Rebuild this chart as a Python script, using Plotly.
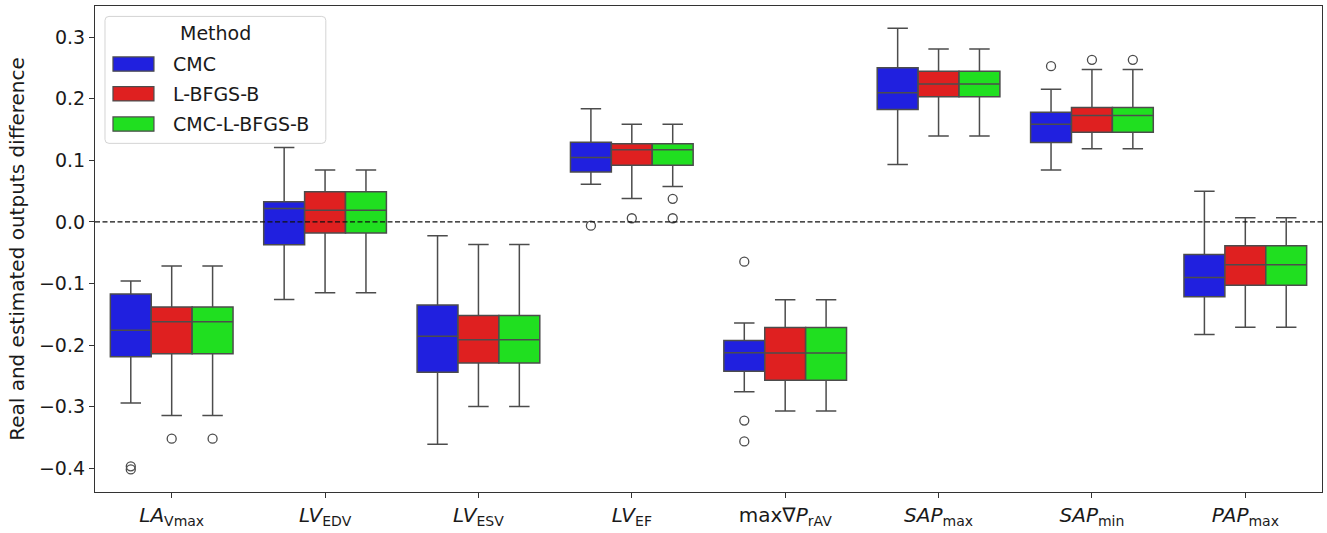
import plotly.graph_objects as go

# ---------------- data ----------------
categories = ["<i>LA</i><sub>Vmax</sub>", "<i>LV</i><sub>EDV</sub>", "<i>LV</i><sub>ESV</sub>",
              "<i>LV</i><sub>EF</sub>", "max∇<i>P</i><sub>rAV</sub>", "<i>SAP</i><sub>max</sub>",
              "<i>SAP</i><sub>min</sub>", "<i>PAP</i><sub>max</sub>"]
methods = ["CMC", "L-BFGS-B", "CMC-L-BFGS-B"]

cmc_low = [-0.294, -0.126, -0.361, 0.0613, -0.276, 0.0935, 0.0844, -0.183]
cmc_q1 = [-0.219, -0.037, -0.244, 0.0812, -0.2425, 0.1828, 0.129, -0.1215]
cmc_med = [-0.176, 0.022, -0.1855, 0.1048, -0.2124, 0.2097, 0.1586, -0.0903]
cmc_q3 = [-0.117, 0.0327, -0.135, 0.1296, -0.1925, 0.2505, 0.178, -0.0527]
cmc_high = [-0.096, 0.121, -0.0226, 0.184, -0.164, 0.3145, 0.2156, 0.05]
cmc_out_cat = [0, 0, 3, 4, 4, 4, 6]
cmc_out_val = [-0.397, -0.402, -0.006, -0.0645, -0.3226, -0.3565, 0.253]

lb_low = [-0.3145, -0.115, -0.300, 0.038, -0.307, 0.1398, 0.1188, -0.171]
lb_q1 = [-0.214, -0.018, -0.229, 0.092, -0.257, 0.2032, 0.1457, -0.103]
lb_med = [-0.162, 0.019, -0.1914, 0.1172, -0.2129, 0.2242, 0.173, -0.0694]
lb_q3 = [-0.138, 0.049, -0.152, 0.127, -0.1715, 0.245, 0.186, -0.0387]
lb_high = [-0.0715, 0.0844, -0.0366, 0.1586, -0.1263, 0.281, 0.2478, 0.007]
lb_out_cat = [0, 3, 6]
lb_out_val = [-0.352, 0.006, 0.2634]

cl_low = [-0.3145, -0.115, -0.300, 0.0575, -0.307, 0.1398, 0.1188, -0.171]
cl_q1 = [-0.214, -0.018, -0.229, 0.092, -0.257, 0.2032, 0.1457, -0.103]
cl_med = [-0.162, 0.019, -0.1914, 0.1172, -0.2129, 0.2242, 0.173, -0.0694]
cl_q3 = [-0.138, 0.049, -0.152, 0.127, -0.1715, 0.245, 0.186, -0.0387]
cl_high = [-0.0715, 0.0844, -0.0366, 0.1586, -0.1263, 0.281, 0.2478, 0.007]
cl_out_cat = [0, 3, 3, 6]
cl_out_val = [-0.352, 0.0376, 0.006, 0.2634]

y_tickvals = [-0.4, -0.3, -0.2, -0.1, 0.0, 0.1, 0.2, 0.3]
y_ticktext = ["−0.4", "−0.3", "−0.2", "−0.1", "0.0", "0.1", "0.2", "0.3"]

# ---------------- style ----------------
colors = ["#2020df", "#df2020", "#20df20"]
edge = "#4c4c4c"
FONT = "DejaVu Sans"
TXT = "#1a1a1a"
W, H = 1327, 533
ML, MR, MT, MB = 95, 4, 6, 37
PW, PH = W - ML - MR, H - MT - MB

stats = [
    (cmc_low, cmc_q1, cmc_med, cmc_q3, cmc_high, cmc_out_cat, cmc_out_val),
    (lb_low, lb_q1, lb_med, lb_q3, lb_high, lb_out_cat, lb_out_val),
    (cl_low, cl_q1, cl_med, cl_q3, cl_high, cl_out_cat, cl_out_val),
]

group_width = 0.8
n = len(methods)
bw = group_width / n

fig = go.Figure()
for k, (name, col, st) in enumerate(zip(methods, colors, stats)):
    lo, q1, med, q3, hi, oc, ov = st
    off = -group_width / 2 + bw * (k + 0.5)
    xs = [i + off for i in range(len(categories))]
    fig.add_trace(go.Box(
        name=name, x=xs, q1=q1, median=med, q3=q3, lowerfence=lo, upperfence=hi,
        width=bw, fillcolor=col, line=dict(color=edge, width=1.5),
        whiskerwidth=0.5, boxpoints=False, showlegend=False, hoverinfo="skip",
    ))
    fig.add_trace(go.Scatter(
        x=[c + off for c in oc], y=ov, mode="markers", showlegend=False,
        marker=dict(symbol="circle-open", size=9, color=edge, line=dict(width=1.3, color=edge)),
        hoverinfo="skip",
    ))


def px(x):
    return (x - ML) / PW


def py(y):
    return 1 - (y - MT) / PH


shapes = [dict(type="line", xref="paper", x0=0, x1=1, yref="y", y0=0, y1=0,
               line=dict(color="#111111", width=1.2, dash="5px,2.5px"), layer="above")]

# legend frame (rounded)
lx0, lx1, ly0, ly1, r = 105, 326, 16.5, 144.5, 4
path = (f"M{px(lx0 + r)},{py(ly0)} L{px(lx1 - r)},{py(ly0)} Q{px(lx1)},{py(ly0)} {px(lx1)},{py(ly0 + r)} "
        f"L{px(lx1)},{py(ly1 - r)} Q{px(lx1)},{py(ly1)} {px(lx1 - r)},{py(ly1)} "
        f"L{px(lx0 + r)},{py(ly1)} Q{px(lx0)},{py(ly1)} {px(lx0)},{py(ly1 - r)} "
        f"L{px(lx0)},{py(ly0 + r)} Q{px(lx0)},{py(ly0)} {px(lx0 + r)},{py(ly0)} Z")
shapes.append(dict(type="path", xref="paper", yref="paper", path=path,
                   fillcolor="rgba(255,255,255,0.85)", line=dict(color="#d4d4d4", width=1), layer="above"))

annotations = [dict(text="Method", xref="paper", yref="paper", x=px(216), y=py(33),
                    xanchor="center", yanchor="middle", showarrow=False,
                    font=dict(family=FONT, size=19, color=TXT))]
row_c = [64.5, 94.5, 125]
for name, col, yc in zip(methods, colors, row_c):
    shapes.append(dict(type="rect", xref="paper", yref="paper",
                       x0=px(113), x1=px(154), y0=py(yc - 7.2), y1=py(yc + 7.2),
                       fillcolor=col, line=dict(color=edge, width=1.2), layer="above"))
    annotations.append(dict(text=name, xref="paper", yref="paper", x=px(171), y=py(yc),
                            xanchor="left", yanchor="middle", showarrow=False,
                            font=dict(family=FONT, size=19, color=TXT)))

fig.update_layout(
    width=W, height=H, margin=dict(l=ML, r=MR, t=MT, b=MB),
    paper_bgcolor="white", plot_bgcolor="white",
    font=dict(family=FONT, color=TXT),
    shapes=shapes, annotations=annotations, showlegend=False,
)
fig.update_xaxes(range=[-0.5, len(categories) - 0.5], tickvals=list(range(len(categories))),
                 ticktext=categories, tickfont=dict(family=FONT, size=20, color=TXT),
                 showline=True, mirror=True, linecolor="#333333", linewidth=1.2,
                 ticks="outside", ticklen=5, tickcolor="#333333", showgrid=False, zeroline=False)
fig.update_yaxes(range=[-0.4387, 0.3508], tickvals=y_tickvals, ticktext=y_ticktext,
                 tickfont=dict(family=FONT, size=19, color=TXT),
                 title=dict(text="Real and estimated outputs difference",
                            font=dict(family=FONT, size=20, color=TXT), standoff=8),
                 showline=True, mirror=True, linecolor="#333333", linewidth=1.2,
                 ticks="outside", ticklen=5, tickcolor="#333333", showgrid=False, zeroline=False)

fig.write_html("out.html")
